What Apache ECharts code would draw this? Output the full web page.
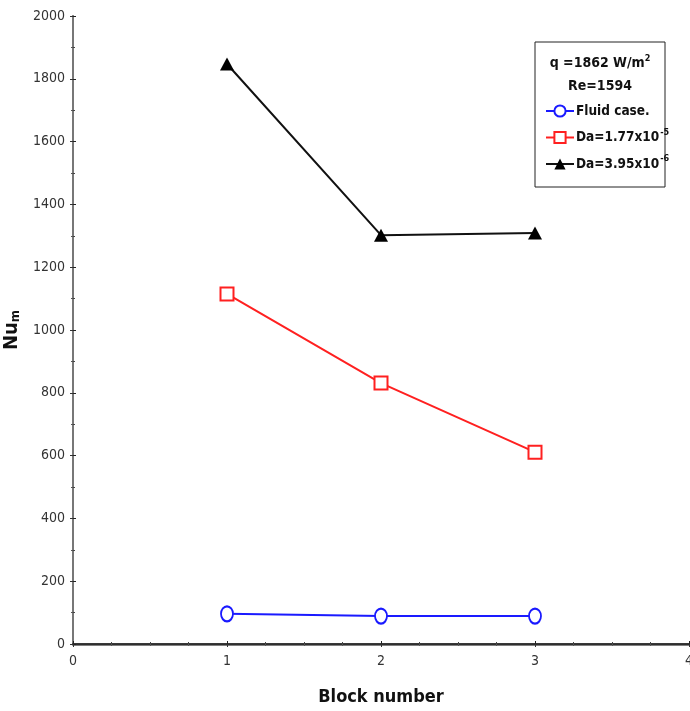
<!DOCTYPE html>
<html>
<head>
<meta charset="utf-8">
<script src="https://cdn.jsdelivr.net/npm/echarts@6/dist/echarts.min.js"></script>
<style>
  html, body { margin: 0; padding: 0; background: #fff; }
  #chart { width: 690px; height: 711px; }
</style>
</head>
<body>
<div id="chart"></div>
<script>
// Mean Nusselt number per block
const blocks = [1, 2, 3];
const fluidCase = [96, 89, 89];
const da177e5 = [1115, 831, 611];
const da395e6 = [1847, 1302, 1309];

const xTicks = [0, 1, 2, 3, 4];
const yTicks = [0, 200, 400, 600, 800, 1000, 1200, 1400, 1600, 1800, 2000];

const FONT = '"DejaVu Sans Condensed", "Liberation Sans Narrow", "Liberation Sans", Arial, sans-serif';

const chart = echarts.init(document.getElementById('chart'));

const pairs = vals => blocks.map((b, i) => [b, vals[i]]);
const plain = v => String(v);

function frameAxis(splits, extra) {
  return Object.assign({
    axisLine: { show: true, lineStyle: { color: '#777', width: 2 } },
    axisTick: { show: true, inside: true, length: 3, lineStyle: { color: '#333' } },
    minorTick: { show: true, splitNumber: splits, length: 2, lineStyle: { color: '#555' } },
    axisLabel: { show: false },
    splitLine: { show: false }
  }, extra);
}

chart.setOption({
  backgroundColor: '#ffffff',
  animation: false,
  grid: { left: 73, top: 16, right: 1, bottom: 67, containLabel: false, outerBoundsMode: 'none' },
  xAxis: [
    {
      type: 'value',
      min: xTicks[0], max: xTicks[xTicks.length - 1], interval: 1,
      name: 'Block number',
      nameLocation: 'middle',
      nameGap: 44,
      nameTextStyle: { fontFamily: FONT, fontSize: 18, fontWeight: 'bold', color: '#111' },
      axisLine: { show: true, lineStyle: { color: '#555', width: 2.5 } },
      axisTick: { show: true, inside: true, length: 3, lineStyle: { color: '#222' } },
      minorTick: { show: true, splitNumber: 4, length: 2, lineStyle: { color: '#444' } },
      axisLabel: { fontFamily: FONT, fontSize: 14, color: '#333', margin: 10, formatter: plain },
      splitLine: { show: false }
    },
    frameAxis(4, {
      type: 'value', position: 'top',
      min: xTicks[0], max: xTicks[xTicks.length - 1], interval: 1,
      axisLine: { show: true, lineStyle: { color: '#222', width: 1.5 } }
    })
  ],
  yAxis: [
    {
      type: 'value',
      min: yTicks[0], max: yTicks[yTicks.length - 1], interval: 200,
      name: '{b|Nu}{s|m}',
      nameLocation: 'middle',
      nameGap: 42,
      nameRotate: 90,
      nameTextStyle: {
        rich: {
          b: { fontFamily: FONT, fontSize: 20, fontWeight: 'bold', color: '#111' },
          s: { fontFamily: FONT, fontSize: 13, fontWeight: 'bold', color: '#111', verticalAlign: 'bottom', padding: [8, 0, 0, 0] }
        }
      },
      axisLine: { show: true, lineStyle: { color: '#222', width: 1.5 } },
      axisTick: { show: true, inside: true, length: 3, lineStyle: { color: '#222' } },
      minorTick: { show: true, splitNumber: 2, length: 2, lineStyle: { color: '#444' } },
      axisLabel: { fontFamily: FONT, fontSize: 14, color: '#333', margin: 8, formatter: plain },
      splitLine: { show: false }
    },
    frameAxis(2, {
      type: 'value', position: 'right',
      min: yTicks[0], max: yTicks[yTicks.length - 1], interval: 200
    })
  ],
  legend: {
    orient: 'vertical',
    left: 540, top: 99,
    itemGap: 10,
    itemWidth: 28, itemHeight: 14,
    data: ['Fluid case.', 'Da=1.77x10-5', 'Da=3.95x10-6'],
    formatter: function (name) {
      if (name === 'Fluid case.') return '{t|Fluid case.}';
      const m = name.match(/^(Da=[\d.]+x10)(-\d)$/);
      return '{t|' + m[1] + '}{u|' + m[2] + '}';
    },
    textStyle: {
      padding: [0, 0, 0, -3],
      rich: {
        t: { fontFamily: FONT, fontSize: 13.5, fontWeight: 'bold', color: '#111' },
        u: { fontFamily: FONT, fontSize: 9, fontWeight: 'bold', color: '#111', verticalAlign: 'top', padding: [0, 0, 10, 1] }
      }
    }
  },
  graphic: [
    {
      type: 'rect',
      shape: { x: 535, y: 42, width: 130, height: 145 },
      style: { fill: '#fff', stroke: '#222', lineWidth: 1 },
      z: 0
    },
    {
      type: 'text',
      x: 600, y: 54,
      style: {
        text: '{t|q =1862 W/m}{u|2}',
        align: 'center',
        rich: {
          t: { fontFamily: FONT, fontSize: 14, fontWeight: 'bold', fill: '#111' },
          u: { fontFamily: FONT, fontSize: 9, fontWeight: 'bold', fill: '#111', verticalAlign: 'top', padding: [0, 0, 10, 0] }
        }
      },
      z: 10
    },
    {
      type: 'text',
      x: 600, y: 79,
      style: {
        text: 'Re=1594',
        align: 'center',
        fontFamily: FONT, fontSize: 14, fontWeight: 'bold', fill: '#111'
      },
      z: 10
    }
  ],
  series: [
    {
      name: 'Fluid case.',
      type: 'line',
      data: pairs(fluidCase),
      symbol: 'circle',
      symbolSize: [12, 15],
      showAllSymbol: true,
      lineStyle: { color: '#1a1aff', width: 2 },
      itemStyle: { color: '#fff', borderColor: '#1a1aff', borderWidth: 2 },
      z: 3
    },
    {
      name: 'Da=1.77x10-5',
      type: 'line',
      data: pairs(da177e5),
      symbol: 'rect',
      symbolSize: 13,
      lineStyle: { color: '#ff2020', width: 2 },
      itemStyle: { color: '#fff', borderColor: '#ff2020', borderWidth: 2 },
      z: 3
    },
    {
      name: 'Da=3.95x10-6',
      type: 'line',
      data: pairs(da395e6),
      symbol: 'triangle',
      symbolSize: [14, 13],
      lineStyle: { color: '#111', width: 2 },
      itemStyle: { color: '#000', borderColor: '#000', borderWidth: 0 },
      z: 3
    }
  ]
});
</script>
</body>
</html>
